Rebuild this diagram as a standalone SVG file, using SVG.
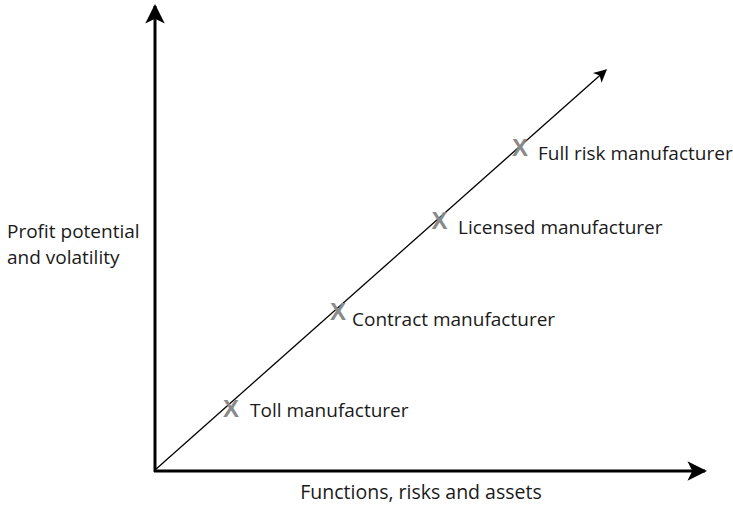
<svg xmlns="http://www.w3.org/2000/svg" width="733" height="506" viewBox="0 0 733 506">
<style>
.t{font-family:"Open Sans","Noto Sans","Liberation Sans",sans-serif;font-size:19px;fill:#1a1a1a}
.x{font-family:"Liberation Sans",Arial,sans-serif;font-size:24px;font-weight:bold;fill:#8a8a8a}
.axis{stroke:#000;stroke-width:3;fill:none}
</style>
<defs>
<marker id="big" viewBox="0 0 10 10" refX="9" refY="5" markerWidth="8" markerHeight="6.5" markerUnits="strokeWidth" orient="auto">
<path d="M0,0 L10,5 L0,10 L2.5,5 Z" fill="#000"/>
</marker>
<marker id="small" viewBox="0 0 10 10" refX="9" refY="5" markerWidth="12" markerHeight="10" markerUnits="strokeWidth" orient="auto">
<path d="M0,0 L10,5 L0,10 L2.5,5 Z" fill="#000"/>
</marker>
</defs>
<g id="connectors">
<line class="axis" x1="155" y1="472" x2="155" y2="6" marker-end="url(#big)"/>
<line class="axis" x1="154" y1="471" x2="705" y2="471" marker-end="url(#big)"/>
<line x1="155" y1="470" x2="606" y2="70" stroke="#000" stroke-width="1.3" marker-end="url(#small)"/>
</g>
<g id="yLabel"><text class="t" x="7" y="238">Profit potential</text><text class="t" x="7" y="264">and volatility</text></g>
<g id="xLabel"><text class="t" x="421" y="499" text-anchor="middle" style="font-size:19.5px">Functions, risks and assets</text></g>
<g id="toll"><text class="x" x="231" y="417" text-anchor="middle">X</text><text class="t" x="250" y="417">Toll manufacturer</text></g>
<g id="contract"><text class="x" x="338" y="320" text-anchor="middle">X</text><text class="t" x="352" y="326">Contract manufacturer</text></g>
<g id="licensed"><text class="x" x="439.5" y="229" text-anchor="middle">X</text><text class="t" x="458" y="234">Licensed manufacturer</text></g>
<g id="fullrisk"><text class="x" x="520" y="156" text-anchor="middle">X</text><text class="t" x="538" y="160">Full risk manufacturer</text></g>
</svg>
